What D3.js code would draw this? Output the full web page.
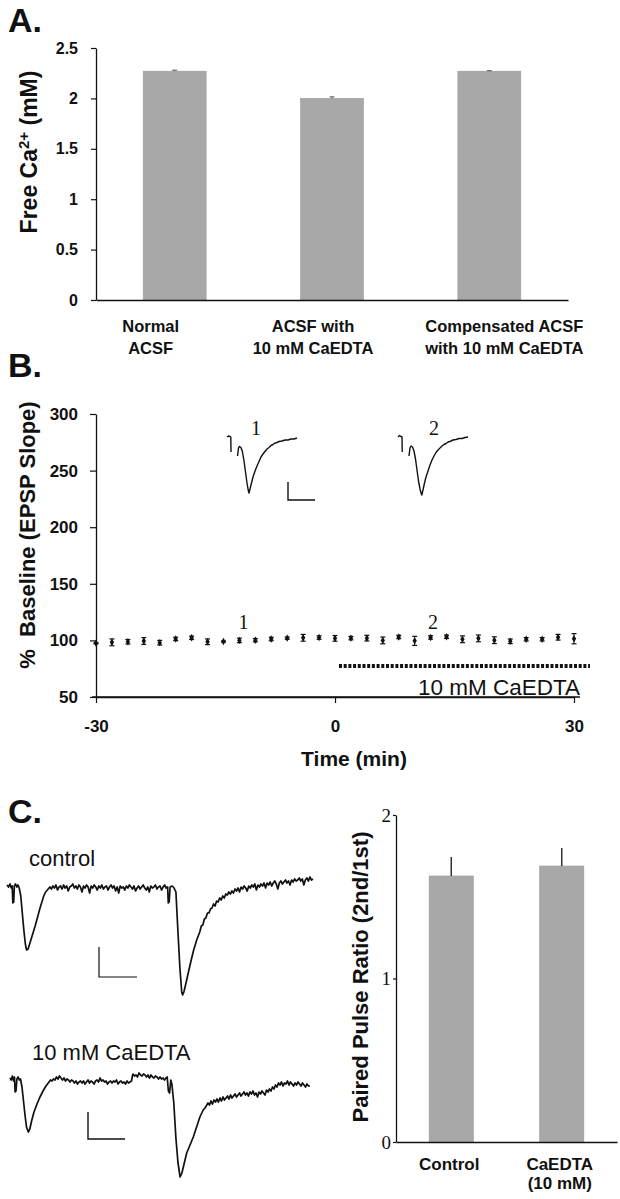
<!DOCTYPE html>
<html>
<head>
<meta charset="utf-8">
<script src="https://cdn.jsdelivr.net/npm/d3@7/dist/d3.min.js"></script>
<style>
  body { margin: 0; background: #fff; }
  svg { display: block; font-family: "Liberation Sans", Arial, sans-serif; }
</style>
</head>
<body>
<svg id="fig" width="620" height="1199"></svg>
<script>
// PANEL A DATA
const caGroups = [['Normal', 'ACSF'], ['ACSF with', '10 mM CaEDTA'], ['Compensated ACSF', 'with 10 mM CaEDTA']];
const caFree = [2.27, 2.0, 2.27];
const caErr = [0.01, 0.015, 0.005];
const caTicks = [0, 0.5, 1, 1.5, 2, 2.5];

// PANEL B DATA
const timeMin = [-30, -28, -26, -24, -22, -20, -18, -16, -14, -12, -10, -8, -6, -4, -2, 0,
  2, 4, 6, 8, 10, 12, 14, 16, 18, 20, 22, 24, 26, 28, 30];
const slopePct = [97.5, 98.3, 98.8, 99.5, 98, 101.3, 102.3, 98.8, 99, 100, 100.2, 101.2, 102, 102.3, 102.5, 101.8,
  102, 102, 100, 103, 99.6, 102.6, 103.2, 101, 101.8, 100.2, 99.2, 101, 101, 102.8, 101.5];
const slopeErr = [0.5, 3, 2, 3, 2, 1.5, 1.5, 2.5, 0.5, 2, 1.5, 1.5, 1, 3, 1.5, 2.5,
  1.5, 2.5, 3, 1.5, 4, 1.5, 1.5, 3, 3, 3, 2, 1.5, 1.5, 2.5, 4.5];
const pctTicks = [50, 100, 150, 200, 250, 300];
const timeTicks = [-30, 0, 30];
const drugSpan = [0.5, 32];
const drugLevel = 77.4;
const sampleMarks = [{ label: '1', t: -11.5 }, { label: '2', t: 12.3 }];

// EPSP INSETS (ms, arbitrary amplitude; null = blanked artifact)
const epsp1 = [[0, 0], [1.5, 1], [3, 0.5], [3.8, 0], [4, -14], [4.3, -15], [7, null],
  [10.5, -19], [11.5, -11], [12.5, -9.5], [14, -10.5], [15.5, -15], [17, -24], [18.5, -35], [20, -46],
  [21.2, -53], [22, -56], [23, -52], [24.5, -46], [26, -40], [28, -34], [30, -29], [32, -24.5], [34, -20],
  [36, -17], [38, -14.5], [40, -12], [42, -10.5], [44, -8.5], [46, -7.5], [48, -6], [50, -5.5], [52, -4.5],
  [55, -4], [58, -3], [61, -3], [64, -2], [67, -2], [70, -1]];
const epsp2 = [[0, 0], [1.5, 1.5], [3, 0.5], [4, 0], [4.2, -14], [4.5, -15], [7, null],
  [11, -19], [12, -11], [13, -9], [14.5, -10], [16, -14], [17.5, -22], [19, -33], [20.5, -44], [22, -52],
  [23, -56], [23.8, -58], [25, -53], [26.5, -46], [28, -40], [30, -34], [32, -28], [34, -23], [36, -19],
  [38, -15.5], [40, -13], [42, -11], [44, -9], [46, -7.5], [48, -6.5], [50, -5], [52, -4.5], [55, -3],
  [58, -2.5], [61, -1.5], [64, -1.5], [67, -0.5], [70, 0]];

// PANEL C DATA
const ppGroups = [['Control'], ['CaEDTA', '(10 mM)']];
const ppRatio = [1.627, 1.688];
const ppErr = [0.116, 0.11];
const ppTicks = [0, 1, 2];

// PAIRED PULSE TRACES (ms, arbitrary amplitude)
const ctrlTrace = [[0, 3], [0.5, 1], [1, 4], [1.4, 0], [1.7, 2], [1.9, -15], [2.2, -14], [2.4, 2], [2.8, 4], [3.2, 1],
  [3.6, 3], [4, 0], [4.5, -8], [5, -25], [5.5, -42], [6, -56], [6.4, -62], [6.9, -61], [7.5, -55], [8.3, -47],
  [9.2, -38], [10, -29], [10.8, -20], [11.5, -13], [12, -8], [12.6, -4], [13.2, -2],
  [14, 1], [14.5, -1], [15, 2], [15.5, 0], [16, 3], [16.5, -2], [17, 1], [17.5, 2], [18, -1], [18.5, 3], [19, 0],
  [19.5, 2], [20, -3], [20.5, 1], [21, 2], [21.5, 4], [22, 0], [22.5, 2], [23, -1], [23.5, 3], [24, 1], [24.5, -4],
  [25, 2], [25.5, 0], [26, 3], [26.5, 1], [27, -5], [27.5, 2], [28, 0], [28.5, 3], [29, 1], [29.5, -2], [30, 2],
  [30.5, 0], [31, 3], [31.5, -1], [32, 1], [32.5, 2], [33, -2], [33.5, 1], [34, 3], [34.5, 0], [35, 2], [35.5, -3],
  [36, 1], [36.5, -5], [37, 2], [37.5, 0], [38, 1], [38.5, -2], [39, 2], [39.5, 0], [40, 3], [40.5, 1], [41, -1],
  [41.5, 2], [42, -3], [42.5, 0], [43, 2], [43.5, -1], [44, 1], [44.5, 3], [45, 0], [45.5, -2], [46, 1], [46.5, -4],
  [47, 2], [47.5, 0], [48, 1], [48.5, 3], [49, -1], [49.5, 1], [50, 2], [50.5, -2], [51, 1], [51.5, 3], [52, 0],
  [52.5, 1], [52.7, -15], [53, -14], [53.3, 1], [54, 2], [54.6, 0], [55.2, -4], [55.8, -40], [56.5, -80],
  [57.1, -104], [57.4, -107], [57.8, -104], [58.5, -95], [59.3, -84], [60.2, -72], [61, -62], [62, -52], [63, -44],
  [63.5, -38], [64, -37], [64.5, -31], [65, -30], [65.5, -25], [66, -25], [66.5, -21], [67, -20], [67.5, -16],
  [68, -18], [68.5, -13], [69, -14], [69.5, -10], [70, -12], [70.5, -8], [71, -10], [71.5, -6],
  [72, -7], [72.5, -4], [73, -6], [73.5, -3], [74, -5], [74.5, -1], [75, -3], [75.5, 0], [76, -4], [76.5, 1],
  [77, -1], [77.5, 2], [78, 0], [78.5, -3], [79, 2], [79.5, 0], [80, 3], [80.5, 1], [81, 4], [81.5, -2], [82, 3],
  [82.5, 1], [83, 4], [83.5, 2], [84, 5], [84.5, 0], [85, 5], [85.5, 3], [86, 6], [86.5, 2], [87, 5], [87.5, 7],
  [88, 4], [88.5, -1], [89, 5], [89.5, 7], [90, 4], [90.5, 6], [91, 8], [91.5, 5], [92, 7], [92.5, 3], [93, 8],
  [93.5, 6], [94, 9], [94.5, 7], [95, 8], [95.5, 10], [96, 7], [96.5, 9], [97, 3], [97.5, 8], [98, 10], [98.5, 7],
  [99, 11], [99.5, 8], [100, 9]];
const edtaTrace = [[0, 5], [0.4, 3], [0.8, 7], [1.2, 2], [1.5, 6], [1.7, -9], [2, -8], [2.3, 4], [2.7, 6], [3.1, 3],
  [3.5, 4], [4, -4], [4.5, -18], [5, -32], [5.5, -44], [6.1, -49], [6.6, -46], [7.2, -38], [8, -29], [9, -21],
  [10, -14], [11, -8], [12, -3], [12.5, -1],
  [13, 1], [13.5, 3], [14, 2], [14.5, 4], [15, 3], [15.5, 6], [16, 4], [16.5, 7], [17, 5], [17.5, 3], [18, 5],
  [18.5, 2], [19, 4], [19.5, 3], [20, 1], [20.5, 3], [21, 2], [21.5, 0], [22, 2], [22.5, -1], [23, 1], [23.5, 2],
  [24, 0], [24.5, 2], [25, -1], [25.5, 1], [26, 3], [26.5, 0], [27, 2], [27.5, 1], [28, -1], [28.5, 2], [29, 3],
  [29.5, 1], [30, 5], [30.5, 2], [31, 3], [31.5, 1], [32, 2], [32.5, -1], [33, 1], [33.5, 2], [34, 0], [34.5, 2],
  [35, 1], [35.5, 3], [36, -1], [36.5, 1], [37, 2], [37.5, 0], [38, 1], [38.5, -1], [39, 2], [39.5, 0], [40, 1],
  [40.5, 2], [40.8, 7], [41, 9], [41.5, 7], [42, 8], [42.5, 6], [43, 10], [43.5, 8], [44, 7], [44.5, 9], [45, 8],
  [45.5, 6], [46, 8], [46.5, 5], [47, 8], [47.5, 6], [48, 5], [48.5, 7], [49, 6], [49.5, 4], [50, 6], [50.5, 4],
  [51, 5], [51.5, 3], [52, 5], [52.4, 6], [52.8, -8], [53.2, -10], [53.6, 3], [54, -2], [54.6, -20], [55.3, -55],
  [56, -80], [56.7, -94], [57.3, -90], [58.1, -80], [58.9, -70], [60, -62], [61.1, -54], [62.2, -44], [63.3, -34],
  [64.4, -27], [65, -25], [65.6, -22],
  [66, -20], [66.5, -22], [67, -18], [67.5, -21], [68, -17], [68.5, -19], [69, -16], [69.5, -19], [70, -15],
  [70.5, -18], [71, -14], [71.5, -17], [72, -15], [72.5, -13], [73, -16], [73.5, -12], [74, -15], [74.5, -13],
  [75, -11], [75.5, -14], [76, -12], [76.5, -10], [77, -13], [77.5, -11], [78, -9], [78.5, -12], [79, -10],
  [79.5, -13], [80, -9], [80.5, -11], [81, -8], [81.5, -12], [82, -10], [82.5, -14], [83, -9], [83.5, -11],
  [84, -8], [84.5, -10], [85, -12], [85.5, -7], [86, -9], [86.5, -6], [87, -8], [87.5, -4], [88, -6], [88.5, -2],
  [89, -4], [89.5, 0], [90, -2], [90.5, 1], [91, -3], [91.5, 0], [92, -1], [92.5, 2], [93, -2], [93.5, 1],
  [94, -1], [94.5, -3], [95, 0], [95.5, -2], [96, 1], [96.5, -1], [97, -3], [97.5, 0], [98, -2], [98.5, -4],
  [99, -1], [99.5, -3], [100, -3]];

const BAR = '#a8a8a8';
const INK = '#111';
const SERIF = '"Liberation Serif", "Times New Roman", serif';
const svg = d3.select('#fig');

function panelLetter(txt, y) {
  svg.append('text').attr('x', 8).attr('y', y).attr('font-size', 34).attr('font-weight', 'bold').attr('fill', INK).text(txt);
}

function styleAxis(g, size, weight, family) {
  g.select('.domain').attr('stroke', INK).attr('stroke-width', 1.3);
  g.selectAll('.tick line').attr('stroke', INK).attr('stroke-width', 1.2);
  g.selectAll('.tick text').attr('fill', INK).attr('font-size', size).attr('font-weight', weight)
    .attr('font-family', family || null);
}

// ---------- PANEL A ----------
panelLetter('A.', 32);
const xA = d3.scaleBand().domain(d3.range(caFree.length)).range([96, 568]).paddingInner(0.6).paddingOuter(0.3);
const yA = d3.scaleLinear().domain([0, 2.5]).range([300, 48]);
const gA = svg.append('g');

gA.selectAll('rect').data(caFree).enter().append('rect')
  .attr('x', (d, i) => xA(i)).attr('y', d => yA(d))
  .attr('width', xA.bandwidth()).attr('height', d => yA(0) - yA(d))
  .attr('fill', BAR).attr('stroke', '#9a9a9a').attr('stroke-width', 0.6);

caFree.forEach((v, i) => {
  const cx = xA(i) + xA.bandwidth() / 2;
  gA.append('line').attr('x1', cx).attr('x2', cx).attr('y1', yA(v)).attr('y2', yA(v + caErr[i])).attr('stroke', '#555');
  gA.append('line').attr('x1', cx - 2.5).attr('x2', cx + 2.5).attr('y1', yA(v + caErr[i])).attr('y2', yA(v + caErr[i])).attr('stroke', '#555');
});

gA.append('g').attr('transform', 'translate(96,0)')
  .call(d3.axisLeft(yA).tickValues(caTicks).tickSize(5).tickSizeOuter(0).tickPadding(13).tickFormat(d => String(d)))
  .call(g => styleAxis(g, 16, 'bold'));
gA.append('g').attr('transform', 'translate(0,300)')
  .call(d3.axisBottom(xA).tickSize(0).tickSizeOuter(0).tickFormat(() => ''))
  .call(g => styleAxis(g, 16, 'bold'));

// category labels sit a little off the bar centres in the original
const caShift = [-24, -19, 15];
caGroups.forEach((lines, i) => {
  const t = gA.append('text').attr('text-anchor', 'middle').attr('font-size', 16.5).attr('font-weight', 'bold').attr('fill', INK);
  lines.forEach((s, k) => t.append('tspan').attr('x', xA(i) + xA.bandwidth() / 2 + caShift[i]).attr('y', 332 + k * 22).text(s));
});

const titleA = gA.append('text').attr('transform', 'translate(37,152) rotate(-90)').attr('text-anchor', 'middle')
  .attr('font-size', 23).attr('font-weight', 'bold').attr('fill', INK);
titleA.append('tspan').text('Free Ca');
titleA.append('tspan').attr('font-size', 15).attr('dy', -8).text('2+');
titleA.append('tspan').attr('dy', 8).text(' (mM)');

// ---------- PANEL B ----------
panelLetter('B.', 377);
const xB = d3.scaleLinear().domain([-30, 30]).range([96, 574]);
const yB = d3.scaleLinear().domain([50, 300]).range([697, 414]);
const gB = svg.append('g');

gB.append('g').attr('transform', 'translate(96,0)')
  .call(d3.axisLeft(yB).tickValues(pctTicks).tickSize(6).tickSizeOuter(0).tickPadding(12))
  .call(g => styleAxis(g, 17, 'bold'));
gB.append('g').attr('transform', 'translate(0,697)')
  .call(d3.axisBottom(xB).tickValues(timeTicks).tickSize(6).tickSizeOuter(0).tickPadding(17).tickFormat(d => String(d)))
  .call(g => styleAxis(g, 17, 'bold'));
gB.append('line').attr('x1', xB.range()[0] - 4).attr('x2', xB.range()[1] + 6).attr('y1', 697).attr('y2', 697)
  .attr('stroke', INK).attr('stroke-width', 1.3);

gB.append('text').attr('x', 354).attr('y', 766).attr('text-anchor', 'middle')
  .attr('font-size', 21).attr('font-weight', 'bold').attr('fill', INK).text('Time (min)');
gB.append('text').attr('transform', 'translate(35,535) rotate(-90)').attr('text-anchor', 'middle')
  .attr('font-size', 22).attr('font-weight', 'bold').attr('fill', INK).attr('xml:space', 'preserve').text('%  Baseline (EPSP Slope)');

// ERROR BARS + MARKERS
const pts = timeMin.map((t, i) => ({ t, v: slopePct[i], e: slopeErr[i] }));
const eb = gB.selectAll('.eb').data(pts).enter().append('g').attr('class', 'eb');
eb.append('line').attr('x1', d => xB(d.t)).attr('x2', d => xB(d.t))
  .attr('y1', d => yB(d.v - d.e)).attr('y2', d => yB(d.v + d.e)).attr('stroke', INK).attr('stroke-width', 1);
[-1, 1].forEach(s => {
  eb.append('line').attr('x1', d => xB(d.t) - 2.5).attr('x2', d => xB(d.t) + 2.5)
    .attr('y1', d => yB(d.v + s * d.e)).attr('y2', d => yB(d.v + s * d.e)).attr('stroke', INK).attr('stroke-width', 1.2);
});
eb.append('path').attr('d', d3.symbol(d3.symbolDiamond, 16))
  .attr('transform', d => `translate(${xB(d.t)},${yB(d.v)})`).attr('fill', INK);

// SAMPLE LABELS
sampleMarks.forEach(m => {
  gB.append('text').attr('x', xB(m.t)).attr('y', 629).attr('text-anchor', 'middle')
    .attr('font-family', SERIF).attr('font-size', 20).attr('fill', INK).text(m.label);
});

// DRUG BAR
gB.append('line').attr('x1', xB(drugSpan[0])).attr('x2', xB(drugSpan[1])).attr('y1', yB(drugLevel)).attr('y2', yB(drugLevel))
  .attr('stroke', INK).attr('stroke-width', 4).attr('stroke-dasharray', '3,1.7');
gB.append('text').attr('x', 580).attr('y', 695).attr('text-anchor', 'end').attr('font-size', 22.5).attr('fill', INK).text('10 mM CaEDTA');

// INSET TRACES
function drawTrace(g, data, x0, x1, t1, y0, vMin, sw) {
  const x = d3.scaleLinear().domain([0, t1]).range([x0, x1]);
  const y = d3.scaleLinear().domain([vMin, 0]).range([y0 - vMin, y0]);
  const line = d3.line().defined(d => d[1] !== null).x(d => x(d[0])).y(d => y(d[1]));
  g.append('path').datum(data).attr('d', line).attr('fill', 'none').attr('stroke', INK)
    .attr('stroke-width', sw).attr('stroke-linejoin', 'round');
  return { x, y };
}
drawTrace(gB, epsp1, 227, 297, 70, 437, -60, 1.4);
drawTrace(gB, epsp2, 398, 468, 70, 437, -60, 1.4);
[{ label: '1', x: 256 }, { label: '2', x: 434 }].forEach(m => {
  gB.append('text').attr('x', m.x).attr('y', 435).attr('text-anchor', 'middle')
    .attr('font-family', SERIF).attr('font-size', 20).attr('fill', INK).text(m.label);
});
gB.append('path').attr('d', 'M288,482V500H315').attr('fill', 'none').attr('stroke', INK).attr('stroke-width', 1.4);

// ---------- PANEL C ----------
panelLetter('C.', 823);
const gC = svg.append('g');
gC.append('text').attr('x', 29).attr('y', 866).attr('font-size', 22).attr('fill', INK).text('control');
gC.append('text').attr('x', 32).attr('y', 1060).attr('font-size', 22).attr('fill', INK).text('10 mM CaEDTA');

drawTrace(gC, ctrlTrace, 7, 313, 100, 888, -110, 1.7);
gC.append('path').attr('d', 'M99,947V977H137').attr('fill', 'none').attr('stroke', INK).attr('stroke-width', 1.2);
drawTrace(gC, edtaTrace, 10, 310, 100, 1083, -100, 1.7);
gC.append('path').attr('d', 'M88,1112V1139H125').attr('fill', 'none').attr('stroke', INK).attr('stroke-width', 1.4);

const xC = d3.scaleBand().domain(d3.range(ppRatio.length)).range([396, 617]).paddingInner(0.6).paddingOuter(0.3);
const yC = d3.scaleLinear().domain([0, 2]).range([1142, 815]);

gC.selectAll('rect').data(ppRatio).enter().append('rect')
  .attr('x', (d, i) => xC(i)).attr('y', d => yC(d))
  .attr('width', xC.bandwidth()).attr('height', d => yC(0) - yC(d))
  .attr('fill', BAR).attr('stroke', '#9a9a9a').attr('stroke-width', 0.6);
ppRatio.forEach((v, i) => {
  const cx = xC(i) + xC.bandwidth() / 2;
  gC.append('line').attr('x1', cx).attr('x2', cx).attr('y1', yC(v)).attr('y2', yC(v + ppErr[i]))
    .attr('stroke', '#333').attr('stroke-width', 1.5);
});

gC.append('g').attr('transform', 'translate(396,0)')
  .call(d3.axisLeft(yC).tickValues(ppTicks).tickSize(3).tickSizeOuter(0).tickPadding(2).tickFormat(d => String(d)))
  .call(g => styleAxis(g, 19, 'normal', SERIF));
gC.append('g').attr('transform', 'translate(0,1142)')
  .call(d3.axisBottom(xC).tickSize(0).tickSizeOuter(0).tickFormat(() => ''))
  .call(g => styleAxis(g, 16, 'bold'));

ppGroups.forEach((lines, i) => {
  const t = gC.append('text').attr('text-anchor', 'middle').attr('font-size', 17).attr('font-weight', 'bold').attr('fill', INK);
  lines.forEach((s, k) => t.append('tspan').attr('x', xC(i) + xC.bandwidth() / 2 - 2).attr('y', 1170 + k * 19).text(s));
});
gC.append('text').attr('transform', 'translate(368,977) rotate(-90)').attr('text-anchor', 'middle')
  .attr('font-size', 22).attr('font-weight', 'bold').attr('fill', INK).text('Paired Pulse Ratio (2nd/1st)');
</script>
</body>
</html>
